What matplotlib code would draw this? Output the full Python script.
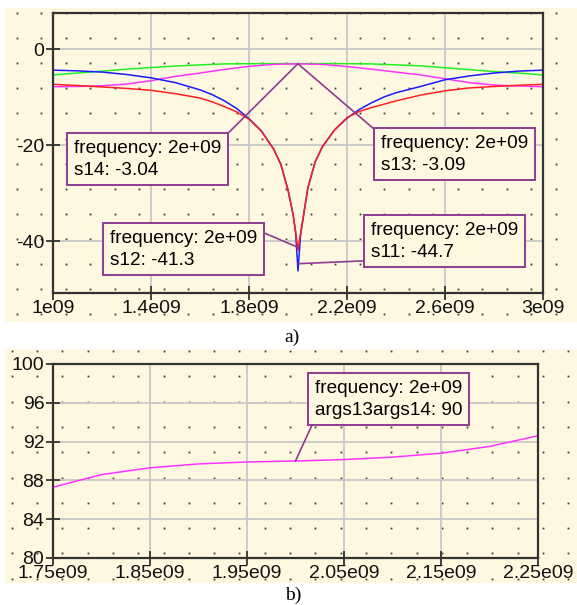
import matplotlib
matplotlib.use("Agg")
import matplotlib.pyplot as plt
from matplotlib.patches import Rectangle
import numpy as np

plt.rcParams['font.family'] = ['Liberation Sans', 'DejaVu Sans']

# ---------------- data: panel a) ----------------
freq_dip = [1.0, 1.1, 1.2, 1.3, 1.4, 1.5, 1.6, 1.65, 1.7, 1.75, 1.8, 1.85, 1.9, 1.93, 1.96, 1.98, 1.99,
            2.0, 2.01, 2.02, 2.04, 2.07, 2.1, 2.15, 2.2, 2.25, 2.3, 2.35, 2.4, 2.5, 2.6, 2.7, 2.8, 2.9, 3.0]
s11 = [-4.4, -4.55, -4.8, -5.3, -6.0, -7.0, -8.5, -9.5, -10.8, -12.4, -14.5, -17.0, -20.8, -24.0, -29.5,
       -34.5, -38.0, -46.2, -39.0, -35.5, -29.0, -23.5, -20.3, -16.8, -14.4, -12.6, -11.2, -10.0, -9.1,
       -7.8, -6.4, -5.6, -5.0, -4.6, -4.4]
s12 = [-7.35, -7.6, -7.9, -8.2, -8.6, -9.3, -10.2, -11.0, -12.0, -13.1, -14.6, -17.1, -20.8, -24.0, -29.5,
       -34.5, -38.0, -41.9, -38.5, -35.5, -29.0, -23.5, -20.3, -16.8, -14.3, -13.0, -12.2, -11.5, -10.8,
       -9.6, -8.7, -8.1, -7.8, -7.55, -7.35]

freq_smooth = [1.0, 1.1, 1.2, 1.3, 1.4, 1.5, 1.6, 1.7, 1.8, 1.9, 2.0,
               2.1, 2.2, 2.3, 2.4, 2.5, 2.6, 2.7, 2.8, 2.9, 3.0]
s13 = [-7.85, -7.8, -7.65, -7.3, -6.6, -5.7, -5.0, -4.25, -3.6, -3.2, -3.09,
       -3.2, -3.65, -4.2, -4.8, -5.4, -6.2, -7.0, -7.5, -7.7, -7.85]
s14 = [-5.4, -5.0, -4.6, -4.2, -3.85, -3.55, -3.3, -3.1, -3.05, -3.04, -3.04,
       -3.04, -3.05, -3.1, -3.3, -3.5, -3.9, -4.3, -4.7, -5.0, -5.4]

xticks_a = [1.0e9, 1.4e9, 1.8e9, 2.2e9, 2.6e9, 3.0e9]
xticklabels_a = ['1e09', '1.4e09', '1.8e09', '2.2e09', '2.6e09', '3e09']
yticks_a = [0, -20, -40]

# ---------------- data: panel b) ----------------
freq_b = [1.75, 1.8, 1.85, 1.9, 1.95, 2.0, 2.05, 2.1, 2.15, 2.2, 2.25]
args13args14 = [87.3, 88.6, 89.3, 89.7, 89.9, 90.0, 90.15, 90.4, 90.8, 91.5, 92.6]
xticks_b = [1.75e9, 1.85e9, 1.95e9, 2.05e9, 2.15e9, 2.25e9]
xticklabels_b = ['1.75e09', '1.85e09', '1.95e09', '2.05e09', '2.15e09', '2.25e09']
yticks_b = [80, 84, 88, 92, 96, 100]

# ---------------- styling ----------------
W, H = 577, 605
CREAM = '#FFF8E1'
DOT = '#3a3a3a'
SPINE = '#333333'
GRID = '#c8c8c8'
PURPLE = '#8E3A8E'
FS = 14
AFS = 13.7

fig = plt.figure(figsize=(W / 100, H / 100), dpi=100)

# background layer in pixel coordinates
bg = fig.add_axes([0, 0, 1, 1], zorder=0)
bg.set_xlim(0, W)
bg.set_ylim(H, 0)
bg.axis('off')
for (x0, y0, x1, y1, dx0, dy0, step_x, step_y) in [
        (5, 8, 577, 322, 16.5, 13.0, 24.5, 25.1),
        (5, 349, 577, 583, 11.7, 351.0, 25.3, 25.3)]:
    bg.add_patch(Rectangle((x0, y0), x1 - x0, y1 - y0, facecolor=CREAM, edgecolor='none'))
    xs = np.arange(dx0, x1, step_x)
    ys = np.arange(dy0, y1, step_y)
    gx, gy = np.meshgrid(xs, ys)
    bg.plot(gx.ravel(), gy.ravel(), 's', ms=1.3, color=DOT, mew=0)

bg.text(292, 337, 'a)', family='Liberation Serif', fontsize=14, ha='center', va='center')
bg.text(293, 595, 'b)', family='Liberation Serif', fontsize=14, ha='center', va='center')


def style_axes(ax):
    ax.set_facecolor('none')
    for sp in ax.spines.values():
        sp.set_color(SPINE)
        sp.set_linewidth(1.6)
    ax.grid(True, color=GRID, lw=1.3)
    ax.set_axisbelow(True)
    ax.tick_params(axis='both', direction='inout', length=9.5, width=1.3, color=SPINE,
                   labelsize=FS, labelcolor='#111111')
    ax.tick_params(axis='x', pad=0.5)
    ax.tick_params(axis='y', pad=1.5)


def px(x, y):
    """image pixel (from top-left) -> figure pixels"""
    return (x, H - y)


box_kw = dict(boxstyle='square,pad=0.35', fc=CREAM, ec=PURPLE, lw=1.4)
LS = 1.35

# ---------------- panel a ----------------
axa = fig.add_axes([53 / W, 1 - 293 / H, 490 / W, 280 / H], zorder=1)
style_axes(axa)
fa_d = np.array(freq_dip) * 1e9
fa_s = np.array(freq_smooth) * 1e9
axa.plot(fa_s, s14, color='#22ee22', lw=1.1)
axa.plot(fa_s, s13, color='#ff33ff', lw=1.1)
axa.plot(fa_d, s11, color='#1a1aff', lw=1.1)
axa.plot(fa_d, s12, color='#ff2020', lw=1.1)
axa.set_xlim(1.0e9, 3.0e9)
axa.set_ylim(-50.8, 7.5)
axa.set_xticks(xticks_a)
axa.set_xticklabels(xticklabels_a)
axa.set_yticks(yticks_a)
axa.set_yticklabels([str(v) for v in yticks_a])

ann_a = [
    ('frequency: 2e+09\ns14: -3.04', -3.04, (74, 140), (1, 1)),
    ('frequency: 2e+09\ns12: -41.3', -41.3, (110, 230), (1, 1)),
    ('frequency: 2e+09\ns13: -3.09', -3.09, (381, 135), (0, 1)),
    ('frequency: 2e+09\ns11: -44.7', -44.7, (371, 222), (0, 0)),
]
for txt, val, (tx, ty), rp in ann_a:
    axa.annotate(txt, xy=(2.0e9, val), xycoords='data',
                 xytext=px(tx, ty), textcoords='figure pixels',
                 ha='left', va='top', fontsize=AFS, linespacing=LS,
                 bbox=box_kw, zorder=5,
                 arrowprops=dict(arrowstyle='-', color=PURPLE, lw=1.2,
                                 relpos=rp, shrinkA=0, shrinkB=0))

# ---------------- panel b ----------------
axb = fig.add_axes([53 / W, 1 - 558 / H, 485 / W, 194 / H], zorder=1)
style_axes(axb)
axb.plot(np.array(freq_b) * 1e9, args13args14, color='#ff33ff', lw=1.1)
axb.set_xlim(1.75e9, 2.25e9)
axb.set_ylim(80, 100)
axb.set_xticks(xticks_b)
axb.set_xticklabels(xticklabels_b)
axb.set_yticks(yticks_b)
axb.set_yticklabels([str(v) for v in yticks_b])
axb.annotate('frequency: 2e+09\nargs13args14: 90', xy=(2.0e9, 90.0), xycoords='data',
             xytext=px(315, 380), textcoords='figure pixels',
             ha='left', va='top', fontsize=AFS, linespacing=LS,
             bbox=box_kw, zorder=5,
             arrowprops=dict(arrowstyle='-', color=PURPLE, lw=1.2,
                             relpos=(0, 0), shrinkA=0, shrinkB=0))

fig.savefig('out.png', dpi=100)
